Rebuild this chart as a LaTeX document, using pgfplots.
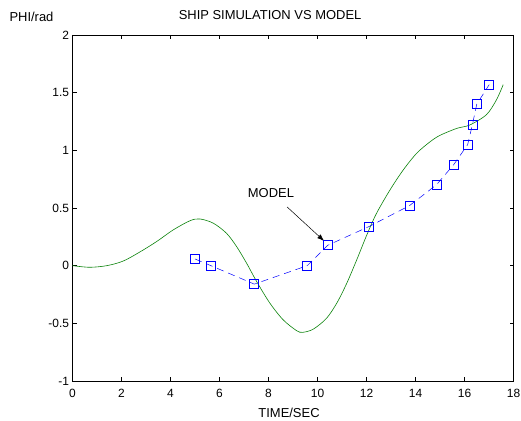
\documentclass[border=0pt]{standalone}
\usepackage{pgfplots}
\pgfplotsset{compat=1.18}
\usetikzlibrary{arrows.meta}
\usepackage{fontspec}
\setmainfont{Liberation Sans}
\definecolor{simgreen}{RGB}{10,130,10}
\begin{document}
\begin{tikzpicture}
\path[use as bounding box] (0,0) rectangle (521bp,421bp);
\begin{axis}[
  at={(72.5bp,40bp)}, anchor=south west,
  scale only axis, width=441bp, height=346bp,
  xmin=0, xmax=18, ymin=-1, ymax=2,
  xtick={0,2,...,18}, ytick={-1,-0.5,0,0.5,1,1.5,2},
  tick align=inside, major tick length=4bp,
  axis line style={line width=0.7pt},
  every tick/.style={black, line width=0.5pt},
  tick label style={font=\fontsize{12}{14}\selectfont},
  xticklabel style={yshift=-5bp},
  /pgf/number format/assume math mode=true,
  yticklabel style={/pgf/number format/fixed},
  label style={font=\fontsize{13}{15}\selectfont},
  title style={font=\fontsize{13}{15}\selectfont},
  title={SHIP SIMULATION VS MODEL},
  title style={at={(rel axis cs:0.448,1.040)}, anchor=center},
  xlabel={TIME/SEC},
  xlabel style={at={(rel axis cs:0.491,-0.0925)}, anchor=center},
  ylabel={PHI/rad},
  ylabel style={at={(rel axis cs:-0.093,1.052)}, anchor=center, rotate=-90},
  clip=false,
]
\addplot[simgreen, line width=0.6pt, smooth, tension=0.5] coordinates {
(0,0) (0.7,-0.014) (1.4,0.0) (2.07,0.04) (2.76,0.12) (3.44,0.21) (4.11,0.31)
(4.8,0.39) (5.2,0.405) (5.75,0.368) (6.29,0.28) (6.70,0.165) (7.11,0.02)
(7.52,-0.139) (8.06,-0.326) (8.6,-0.47) (9.15,-0.564) (9.4,-0.578)
(9.83,-0.55) (10.37,-0.456) (10.8,-0.32) (11.2,-0.15) (11.6,0.05)
(12.0,0.26) (12.4,0.45) (12.96,0.657) (13.5,0.83) (14.05,0.975)
(14.6,1.075) (15.0,1.13) (15.68,1.19) (16.22,1.22) (16.9,1.31) (17.31,1.44) (17.58,1.57)
};
\addplot[blue, line width=0.5pt, dash pattern=on 7bp off 5bp,
  mark=square, mark size=4.5bp, mark options={blue, solid, line width=0.6pt}] coordinates {
(5.0,0.058) (5.65,0.0) (7.42,-0.16) (9.58,0.0) (10.42,0.177) (12.11,0.34)
(13.75,0.52) (14.85,0.70) (15.56,0.876) (16.13,1.05) (16.32,1.22) (16.5,1.40) (17.01,1.57)
};
\node[font=\fontsize{13}{15}\selectfont] at (axis cs:8.1,0.63) {MODEL};
\draw[-{Latex[length=7bp,width=5bp]}, line width=0.5pt] (axis cs:8.76,0.509) -- (axis cs:10.27,0.214);
\end{axis}
\end{tikzpicture}
\end{document}
